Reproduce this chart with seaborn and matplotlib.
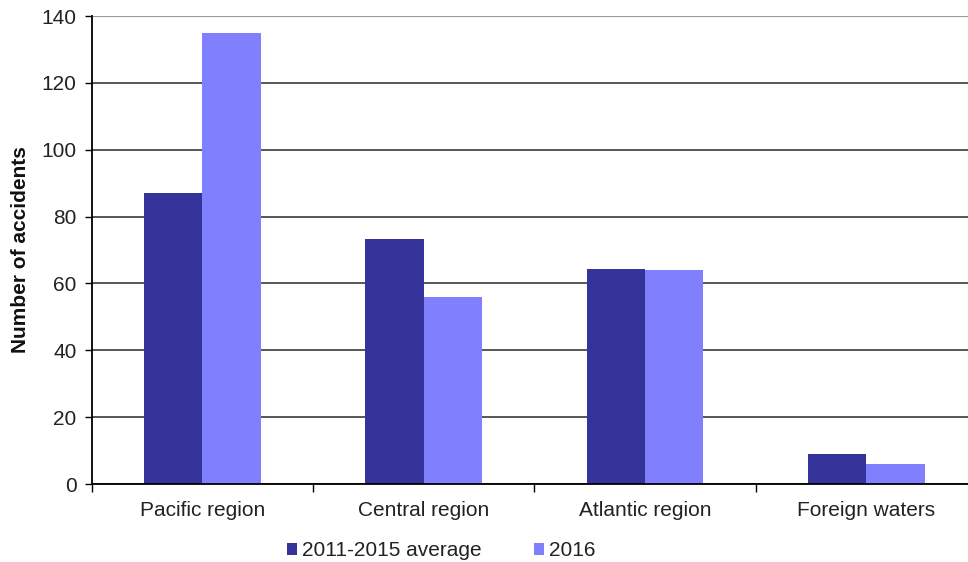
import matplotlib
matplotlib.use("Agg")
import matplotlib.pyplot as plt
import seaborn as sns
import pandas as pd
import numpy as np

regions = ["Pacific region", "Central region", "Atlantic region", "Foreign waters"]
series_names = ["2011-2015 average", "2016"]
avg_2011_2015 = [87, 73.2, 64.4, 9]
year_2016 = [135, 56, 64, 6]
colors = ["#333399", "#8080FF"]
y_ticks = [0, 20, 40, 60, 80, 100, 120, 140]

sns.set_theme(style="white")
plt.rcParams["font.family"] = ["Liberation Sans", "DejaVu Sans"]

df = pd.DataFrame({
    "region": regions * 2,
    "series": [series_names[0]] * 4 + [series_names[1]] * 4,
    "value": avg_2011_2015 + year_2016,
})

fig = plt.figure(figsize=(9.68, 5.62), dpi=100)
ax = fig.add_axes([91.7 / 968, 78 / 562, (4 * 221.3) / 968, (484 - 16) / 562])

sns.barplot(data=df, x="region", y="value", hue="series", palette=colors,
            width=0.527, gap=0, linewidth=0, saturation=1, ax=ax, legend=True)

ax.set_xlim(-0.5, 3.5)
ax.set_ylim(0, 140)
ax.set_yticks(y_ticks)
ax.set_yticklabels([str(t) for t in y_ticks])
ax.set_xlabel("")
ax.set_ylabel("Number of accidents", fontsize=15, fontweight="bold", color="#111111", labelpad=8)

ax.yaxis.grid(True, color="#2a2a2a", linewidth=1.1)
gl = ax.get_ygridlines()
gl[-1].set_color("#999999")
gl[-1].set_linewidth(1.5)
ax.set_axisbelow(True)

for s in ["top", "right"]:
    ax.spines[s].set_visible(False)
for s in ["left", "bottom"]:
    ax.spines[s].set_color("#000000")
    ax.spines[s].set_linewidth(1.3)

ax.tick_params(axis="y", direction="out", length=5, width=1, color="#000000",
               labelsize=15, labelcolor="#222222", pad=6, left=True)
ax.tick_params(axis="x", which="major", length=0, labelsize=15, labelcolor="#222222", pad=12)
ax.set_xticks([-0.5, 0.5, 1.5, 2.5, 3.5], minor=True)
ax.tick_params(axis="x", which="minor", direction="out", length=6, width=1, color="#000000", bottom=True)

handles, labels = ax.get_legend_handles_labels()
ax.get_legend().remove()
fig.legend(handles, labels, loc="center", bbox_to_anchor=(441 / 968, 1 - 551 / 562),
           ncol=2, frameon=False, fontsize=15, handlelength=0.48, handleheight=0.48,
           handletextpad=0.25, columnspacing=2.5, labelcolor="#222222")

fig.savefig("out.png", dpi=100)
